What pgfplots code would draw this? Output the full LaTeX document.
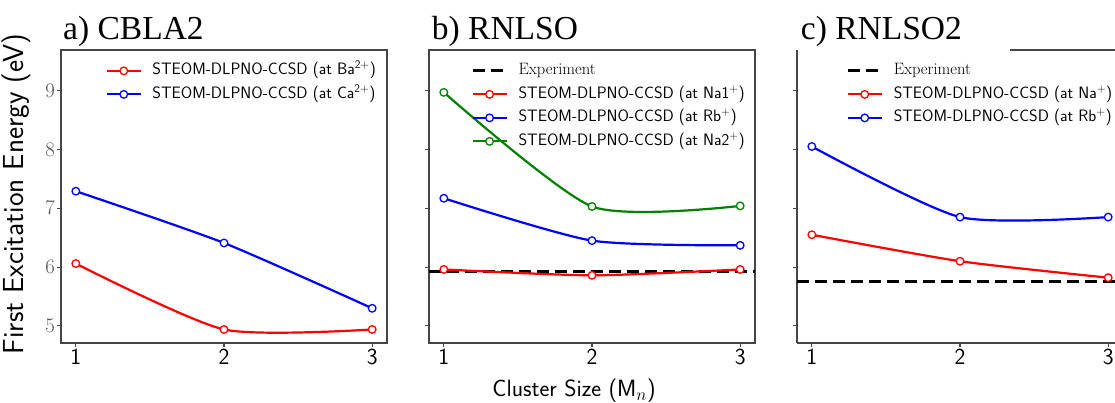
\documentclass[border=0pt]{standalone}
\usepackage{fontspec}
\usepackage{pgfplots}
\pgfplotsset{compat=1.18}
\newfontfamily\titlefont{Liberation Serif}
\definecolor{spine}{RGB}{70,70,70}
\definecolor{tickgray}{RGB}{85,85,85}
\definecolor{mgreen}{RGB}{0,128,0}
\pgfplotsset{
  panel/.style={
    scale only axis, width=326pt, height=293pt,
    xmin=0.9, xmax=3.1, ymin=4.71, ymax=9.69,
    xtick={1,2,3}, xticklabels={1,2,3}, ytick={5,6,7,8,9},
    tick align=outside, tick pos=left,
    major tick length=4pt,
    axis line style={spine, line width=1.1pt},
    every tick/.style={spine, line width=1.1pt},
    xticklabel style={font=\sffamily\fontsize{23}{23}\selectfont, text=black, inner sep=2pt},
    yticklabel style={font=\fontsize{20}{20}\selectfont, text=tickgray, inner sep=2pt},
    legend cell align=left,
    legend style={draw=none, fill=none, inner sep=0pt, anchor=north west,
      font=\sffamily\fontsize{16.5}{16.5}\selectfont,
      nodes={inner sep=0pt, text height=11.5pt, text depth=3.5pt},
      row sep=8.5pt, column sep=11pt},
    legend image code/.code={\draw[mark repeat=2,mark phase=2,##1] plot coordinates {(0pt,0pt) (16.5pt,0pt) (33pt,0pt)};},
  },
  curve/.style={#1, line width=2.2pt, smooth, /tikz/tension=0.4, mark=*, mark size=3.8pt, mark options={fill=white, solid, line width=1.3pt}},
  expt/.style={black, line width=3pt, dash pattern=on 12pt off 6pt},
}
\begin{document}
\begin{tikzpicture}
% ---- panel a ----
\begin{axis}[panel, at={(61pt,60pt)}, anchor=south west,
  legend style={at={(rel axis cs:0.138,0.955)}}]
\addplot[curve=red] coordinates {(1,6.06) (2,4.94) (3,4.94)};
\addlegendentry{STEOM-DLPNO-CCSD (at Ba\textsuperscript{2+})}
\addplot[curve=blue] coordinates {(1,7.29) (2,6.41) (3,5.30)};
\addlegendentry{STEOM-DLPNO-CCSD (at Ca\textsuperscript{2+})}
\end{axis}
% ---- panel b ----
\begin{axis}[panel, at={(429pt,60pt)}, anchor=south west, yticklabels={},
  legend style={at={(rel axis cs:0.13,0.955)}}]
\addplot[expt] coordinates {(0.9,5.92) (3.1,5.92)};
\addlegendentry{\rmfamily Experiment}
\addplot[curve=red] coordinates {(1,5.96) (2,5.86) (3,5.96)};
\addlegendentry{STEOM-DLPNO-CCSD (at Na1\textsuperscript{+})}
\addplot[curve=blue] coordinates {(1,7.17) (2,6.45) (3,6.37)};
\addlegendentry{STEOM-DLPNO-CCSD (at Rb\textsuperscript{+})}
\addplot[curve=mgreen] coordinates {(1,8.97) (2,7.03) (3,7.04)};
\addlegendentry{STEOM-DLPNO-CCSD (at Na2\textsuperscript{+})}
\end{axis}
% ---- panel c ----
\begin{axis}[panel, at={(797pt,60pt)}, anchor=south west, yticklabels={},
  axis x line*=bottom, axis y line*=left,
  x axis line style={-}, y axis line style={-},
  legend style={at={(rel axis cs:0.152,0.955)}}]
\addplot[expt] coordinates {(0.9,5.76) (3.1,5.76)};
\addlegendentry{\rmfamily Experiment}
\addplot[curve=red] coordinates {(1,6.55) (2,6.10) (3,5.82)};
\addlegendentry{STEOM-DLPNO-CCSD (at Na\textsuperscript{+})}
\addplot[curve=blue] coordinates {(1,8.05) (2,6.85) (3,6.85)};
\addlegendentry{STEOM-DLPNO-CCSD (at Rb\textsuperscript{+})}
\end{axis}
\draw[spine, line width=1.1pt] (1010pt,353pt) -- (1125pt,353pt);
% titles and labels
\node[anchor=base west, inner sep=0pt, font=\titlefont\fontsize{33.5}{33.5}\selectfont] at (63pt,363.7pt) {a) CBLA2};
\node[anchor=base west, inner sep=0pt, font=\titlefont\fontsize{33.5}{33.5}\selectfont] at (431.7pt,363.7pt) {b) RNLSO};
\node[anchor=base west, inner sep=0pt, font=\titlefont\fontsize{33.5}{33.5}\selectfont] at (800.7pt,363.7pt) {c) RNLSO2};
\node[anchor=base, rotate=90, inner sep=0pt, font=\sffamily\fontsize{29}{29}\selectfont] at (23.3pt,209pt) {First Excitation Energy (eV)};
\node[anchor=base, inner sep=0pt, font=\sffamily\fontsize{23.5}{23.5}\selectfont] at (574pt,6pt) {Cluster Size (M$_n$)};
\pgfresetboundingbox
\useasboundingbox (0pt,0pt) rectangle (1115pt,403pt);
\end{tikzpicture}
\end{document}
